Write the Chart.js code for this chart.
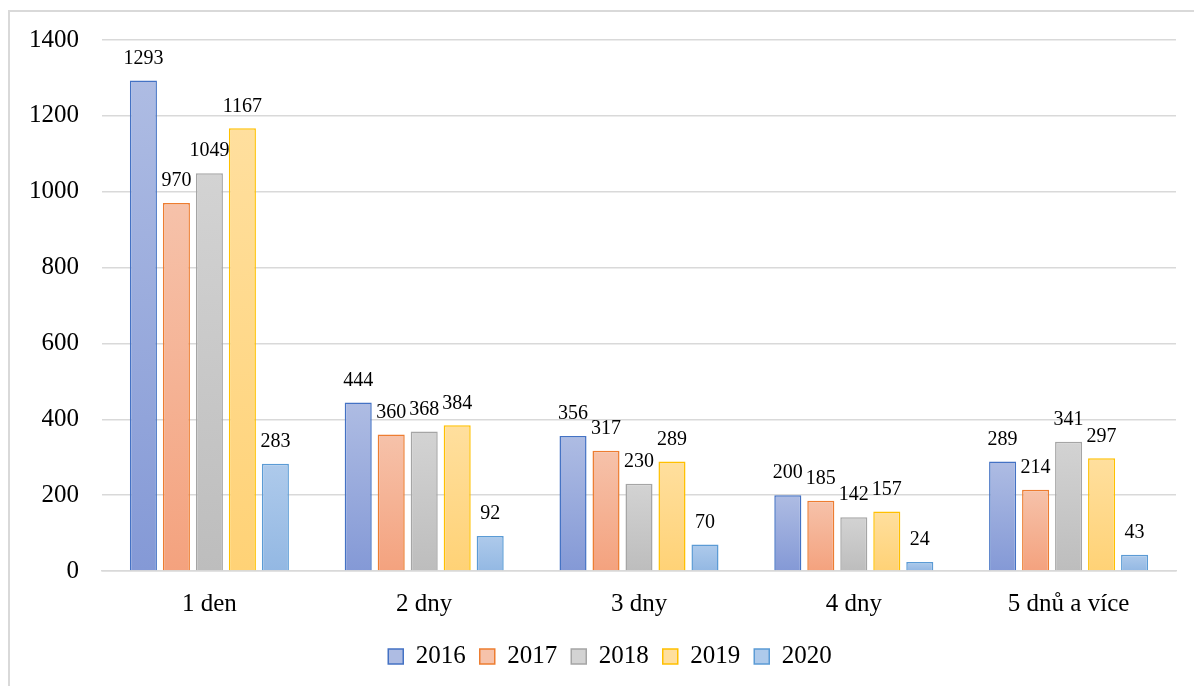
<!DOCTYPE html>
<html>
<head>
<meta charset="utf-8">
<script src="https://cdn.jsdelivr.net/npm/chart.js@4/dist/chart.umd.min.js"></script>
<style>
    html, body { margin: 0; padding: 0; background: #fff; }
    #wrap { position: relative; width: 1194px; height: 686px; overflow: hidden; }
    #frame { position: absolute; left: 8px; top: 10px; width: 1300px; height: 800px;
             border-top: 2px solid #d9d9d9; border-left: 2px solid #d9d9d9; }
    #chart { position: absolute; left: 0; top: 0; }
</style>
</head>
<body>
<div id="wrap">
    <div id="frame"></div>
    <canvas id="chart" width="1194" height="686"></canvas>
</div>
<script>
const categories = ['1 den', '2 dny', '3 dny', '4 dny', '5 dnů a více'];
const years = ['2016', '2017', '2018', '2019', '2020'];
const values2016 = [1293, 444, 356, 200, 289];
const values2017 = [970, 360, 317, 185, 214];
const values2018 = [1049, 368, 230, 142, 341];
const values2019 = [1167, 384, 289, 157, 297];
const values2020 = [283, 92, 70, 24, 43];

const seriesValues = [values2016, values2017, values2018, values2019, values2020];
// top colour, bottom colour, outline
const palette = [
    ['#aebce3', '#8499d6', '#4472c4'],
    ['#f6c2aa', '#f4a27e', '#ed7d31'],
    ['#d3d3d3', '#bdbdbd', '#a5a5a5'],
    ['#ffdf9e', '#ffd276', '#ffc000'],
    ['#aecaeb', '#93b8e3', '#5b9bd5']
];

const FONT = '"Liberation Serif", "Times New Roman", serif';

function barGradient(i) {
    return function(context) {
        const chart = context.chart;
        const yScale = chart.scales.y;
        if (!yScale || context.type !== 'data') return palette[i][1];
        const top = yScale.getPixelForValue(context.parsed.y);
        const base = yScale.getPixelForValue(0);
        if (!isFinite(top) || !isFinite(base) || top === base) return palette[i][1];
        const g = chart.ctx.createLinearGradient(0, top, 0, base);
        g.addColorStop(0, palette[i][0]);
        g.addColorStop(1, palette[i][1]);
        return g;
    };
}

const valueLabels = {
    id: 'valueLabels',
    afterLayout(chart) {
        // let the y tick labels draw left of the narrowed axis box
        chart.scales.y.left = 0;
    },
    afterDatasetsDraw(chart) {
        const ctx = chart.ctx;
        ctx.save();
        ctx.font = '20px ' + FONT;
        ctx.fillStyle = '#000';
        ctx.textAlign = 'center';
        ctx.textBaseline = 'middle';
        chart.data.datasets.forEach((ds, i) => {
            chart.getDatasetMeta(i).data.forEach((bar, j) => {
                ctx.fillText(String(ds.data[j]), bar.x, bar.y - 22);
            });
        });
        ctx.restore();
    }
};

const ctx = document.getElementById('chart').getContext('2d');
new Chart(ctx, {
    type: 'bar',
    data: {
        labels: categories,
        datasets: years.map((y, i) => ({
            label: y,
            data: seriesValues[i],
            backgroundColor: barGradient(i),
            borderColor: palette[i][2],
            borderWidth: 1.5,
            categoryPercentage: 0.768,
            barPercentage: 0.82
        }))
    },
    options: {
        responsive: false,
        animation: false,
        layout: { padding: { left: 44, right: 18, top: 40, bottom: 7 } },
        scales: {
            x: {
                grid: { display: false, drawTicks: false },
                border: { display: true, color: '#d9d9d9', width: 1.5 },
                ticks: { color: '#000', font: { family: FONT, size: 25 }, padding: 18 },
                afterFit(scale) { scale.height -= 7; }
            },
            y: {
                min: 0,
                max: 1400,
                ticks: {
                    stepSize: 200,
                    color: '#000',
                    font: { family: FONT, size: 25 },
                    padding: 23,
                    callback: (v) => String(v)
                },
                grid: { color: '#d9d9d9', lineWidth: 1.5, drawTicks: false },
                border: { display: false },
                afterFit(scale) { scale.width = 58; }
            }
        },
        plugins: {
            tooltip: { enabled: false },
            legend: {
                position: 'bottom',
                labels: {
                    boxWidth: 15,
                    boxHeight: 15,
                    padding: 14,
                    color: '#000',
                    font: { family: FONT, size: 25 },
                    generateLabels(chart) {
                        return chart.data.datasets.map((ds, i) => ({
                            text: ds.label,
                            fillStyle: palette[i][0],
                            strokeStyle: palette[i][2],
                            lineWidth: 1.5,
                            hidden: false,
                            datasetIndex: i
                        }));
                    }
                }
            }
        }
    },
    plugins: [valueLabels]
});
</script>
</body>
</html>
